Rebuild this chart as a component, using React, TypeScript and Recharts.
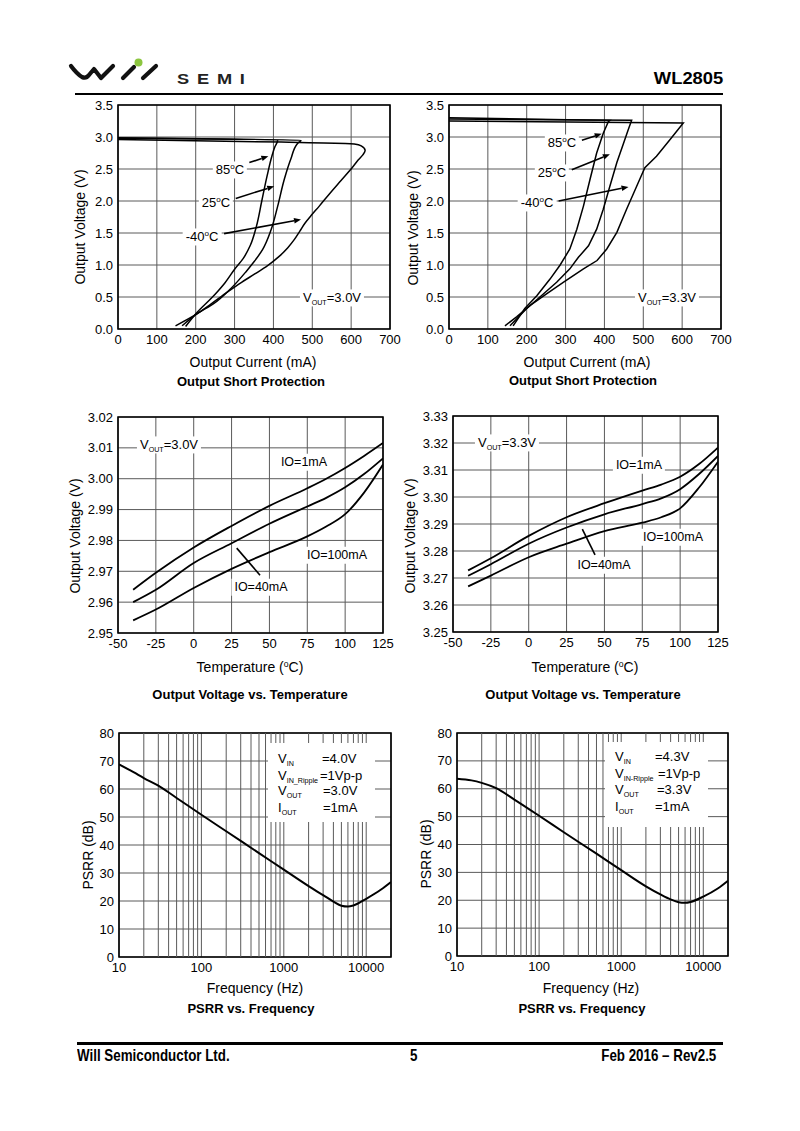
import React from 'react';
import {
  LineChart, Line, XAxis, YAxis, CartesianGrid, ReferenceLine, ReferenceArea,
} from 'recharts';

const FONT = '"Liberation Sans", Arial, sans-serif';

// ---------- Output short protection, VOUT = 3.0V ----------
const s30_85_mA = [0, 411, 404, 396, 384, 370, 356, 340, 322, 302, 275, 240, 205, 174];
const s30_85_V = [2.99, 2.95, 2.85, 2.7, 2.4, 2.0, 1.6, 1.3, 1.1, 0.95, 0.72, 0.48, 0.27, 0.04];
const s30_25_mA = [0, 471, 462, 445, 428, 411, 394, 372, 350, 330, 290, 247, 204, 165];
const s30_25_V = [2.98, 2.95, 2.9, 2.66, 2.34, 1.92, 1.55, 1.24, 1.05, 0.9, 0.63, 0.4, 0.24, 0.05];
const s30_m40_mA = [0, 420, 585, 608, 626, 636, 630, 618, 604, 574, 544, 518, 498, 482, 468, 454, 437, 414, 385, 352, 318, 282, 239, 204, 148];
const s30_m40_V = [2.96, 2.92, 2.9, 2.89, 2.86, 2.79, 2.72, 2.64, 2.53, 2.32, 2.11, 1.92, 1.78, 1.66, 1.53, 1.4, 1.27, 1.13, 0.99, 0.86, 0.73, 0.58, 0.39, 0.24, 0.05];

// ---------- Output short protection, VOUT = 3.3V ----------
const s33_85_mA = [0, 414, 410, 397, 380, 363, 346, 329, 311, 286, 260, 226, 195, 165];
const s33_85_V = [3.3, 3.26, 3.24, 3.06, 2.75, 2.34, 1.92, 1.56, 1.25, 1.0, 0.78, 0.52, 0.32, 0.05];
const s33_25_mA = [0, 470, 461, 449, 432, 414, 397, 380, 359, 333, 311, 277, 234, 200, 157];
const s33_25_V = [3.28, 3.26, 3.11, 2.9, 2.6, 2.23, 1.87, 1.56, 1.3, 1.12, 0.94, 0.73, 0.5, 0.32, 0.05];
const s33_m40_mA = [0, 603, 569, 534, 504, 483, 457, 432, 406, 381, 346, 294, 251, 209, 174, 144];
const s33_m40_V = [3.25, 3.22, 2.96, 2.7, 2.52, 2.23, 1.87, 1.51, 1.25, 1.07, 0.94, 0.73, 0.55, 0.37, 0.19, 0.05];

const currentTicks = [0, 100, 200, 300, 400, 500, 600, 700];
const shortVoltTicks = [0, 0.5, 1.0, 1.5, 2.0, 2.5, 3.0, 3.5];

// ---------- Output voltage vs temperature ----------
const tempC = [-40, -25, 0, 25, 50, 75, 87.5, 100, 112.5, 125];
const t30_1mA = [2.964, 2.9695, 2.9777, 2.9847, 2.9912, 2.9969, 3.0, 3.0035, 3.0074, 3.0116];
const t30_40mA = [2.96, 2.964, 2.9727, 2.9791, 2.9854, 2.991, 2.9938, 2.9972, 3.0015, 3.0066];
const t30_100mA = [2.9541, 2.9576, 2.9646, 2.9708, 2.9762, 2.9813, 2.9845, 2.9885, 2.9955, 3.0046];
const t33_1mA = [3.2728, 3.2773, 3.2856, 3.2925, 3.2977, 3.3024, 3.3046, 3.3075, 3.3122, 3.3183];
const t33_40mA = [3.2708, 3.2751, 3.2827, 3.2887, 3.2936, 3.2974, 3.2995, 3.3029, 3.3085, 3.3152];
const t33_100mA = [3.2669, 3.2709, 3.2777, 3.2827, 3.2874, 3.2905, 3.2925, 3.2958, 3.3035, 3.3131];

const tempTicks = [-50, -25, 0, 25, 50, 75, 100, 125];
const v30Ticks = [2.95, 2.96, 2.97, 2.98, 2.99, 3.0, 3.01, 3.02];
const v33Ticks = [3.25, 3.26, 3.27, 3.28, 3.29, 3.3, 3.31, 3.32, 3.33];

// ---------- PSRR vs frequency ----------
const freqHz = [10, 15, 20, 30, 50, 100, 200, 500, 1000, 2000, 3000, 4000, 5000, 6000, 7000, 10000, 15000, 20000];
const psrr30 = [68.8, 66.0, 63.9, 61.2, 56.8, 50.8, 44.9, 37.1, 31.2, 25.3, 22.1, 19.8, 18.3, 18.0, 18.4, 20.8, 24.0, 26.8];
const psrr33 = [63.6, 63.0, 62.1, 60.2, 56.1, 50.3, 44.4, 36.7, 30.8, 25.0, 22.1, 20.3, 19.3, 19.1, 19.4, 21.3, 24.2, 27.0];

const freqTicks = [10, 100, 1000, 10000];
const freqMinor = [20, 30, 40, 50, 60, 70, 80, 90, 200, 300, 400, 500, 600, 700, 800, 900,
  2000, 3000, 4000, 5000, 6000, 7000, 8000, 9000];
const psrrTicks = [0, 10, 20, 30, 40, 50, 60, 70, 80];

const zipIV = (mA: number[], v: number[]) => mA.map((i, k) => ({ i, v: v[k] }));
const tempRows = (a: number[], b: number[], c: number[]) =>
  tempC.map((t, k) => ({ t, a: a[k], b: b[k], c: c[k] }));
const psrrRows = (d: number[]) => freqHz.map((f, k) => ({ f, db: d[k] }));

type Rect = { left: number; top: number; w: number; h: number };
const ML = 50, MT = 10, MR = 20, MB = 30;

const tickStyle = { fontSize: 13, fill: '#000', fontFamily: FONT };
const GRID = '#5a5a5a';

const Arrow = (p: any) => {
  const { x1, y1, x2, y2 } = p;
  const a = Math.atan2(y2 - y1, x2 - x1);
  const L = 7, W = 2.8;
  const bx = x2 - L * Math.cos(a), by = y2 - L * Math.sin(a);
  const pts = `${x2},${y2} ${bx - W * Math.sin(a)},${by + W * Math.cos(a)} ${bx + W * Math.sin(a)},${by - W * Math.cos(a)}`;
  return (
    <g>
      <line x1={x1} y1={y1} x2={bx} y2={by} stroke="#000" strokeWidth={1.6} />
      <polygon points={pts} fill="#000" />
    </g>
  );
};

const Plain = (p: any) => (
  <line x1={p.x1} y1={p.y1} x2={p.x2} y2={p.y2} stroke="#000" strokeWidth={1.6} />
);

function chartBox(r: Rect): React.CSSProperties {
  return { position: 'absolute', left: r.left - ML, top: r.top - MT };
}

const Deg = () => (
  <span style={{ fontSize: '0.62em', position: 'relative', top: '-0.6em' }}>o</span>
);
const Sub = ({ t }: { t: string }) => (
  <span style={{ fontSize: '0.55em', position: 'relative', top: '0.4em' }}>{t}</span>
);

function Tag({ x, y, size = 13, bg = true, children }: any) {
  return (
    <div style={{
      position: 'absolute', left: x, top: y, transform: 'translate(-50%, -50%)',
      fontFamily: FONT, fontSize: size, lineHeight: 1, whiteSpace: 'nowrap',
      background: bg ? '#fff' : 'transparent', padding: '2px 3px', color: '#000',
    }}>{children}</div>
  );
}

function YTitle({ x, y, children }: any) {
  return (
    <div style={{
      position: 'absolute', left: x, top: y, transform: 'translate(-50%, -50%) rotate(-90deg)',
      fontFamily: FONT, fontSize: 14, lineHeight: 1, whiteSpace: 'nowrap', color: '#000',
    }}>{children}</div>
  );
}

function Caption({ x, y, children }: any) {
  return (
    <div style={{
      position: 'absolute', left: x, top: y, transform: 'translate(-50%, -50%)',
      fontFamily: FONT, fontSize: 13, fontWeight: 700, lineHeight: 1, whiteSpace: 'nowrap', color: '#000',
    }}>{children}</div>
  );
}

function ShortChart({ r, c85, c25, cm40, arrows, curve }: any) {
  return (
    <div style={chartBox(r)}>
      <LineChart width={r.w + ML + MR} height={r.h + MT + MB} margin={{ top: MT, right: MR, bottom: 0, left: 0 }}>
        <CartesianGrid stroke={GRID} strokeWidth={1} />
        <XAxis type="number" dataKey="i" domain={[0, 700]} ticks={currentTicks} height={MB}
          tick={tickStyle} tickLine={false} axisLine={false} tickSize={4} tickMargin={2} allowDataOverflow />
        <YAxis type="number" domain={[0, 3.5]} ticks={shortVoltTicks} width={ML}
          tick={tickStyle} tickLine={false} axisLine={false} tickSize={3} tickMargin={2}
          tickFormatter={(v: number) => v.toFixed(1)} allowDataOverflow />
        <Line data={c85} dataKey="v" type={curve} stroke="#000" strokeWidth={1.5} dot={false} isAnimationActive={false} />
        <Line data={c25} dataKey="v" type={curve} stroke="#000" strokeWidth={1.5} dot={false} isAnimationActive={false} />
        <Line data={cm40} dataKey="v" type={curve} stroke="#000" strokeWidth={1.5} dot={false} isAnimationActive={false} />
        {arrows.map((s: any, k: number) => (
          <ReferenceLine key={k} segment={s} shape={Arrow} ifOverflow="visible" />
        ))}
        <ReferenceArea x1={0} x2={700} y1={0} y2={3.5} fill="none" stroke="#000" strokeWidth={1.6} ifOverflow="visible" />
      </LineChart>
    </div>
  );
}

function TempChart({ r, rows, yTicks, pointer }: any) {
  const lo = yTicks[0], hi = yTicks[yTicks.length - 1];
  return (
    <div style={chartBox(r)}>
      <LineChart width={r.w + ML + MR} height={r.h + MT + MB} data={rows} margin={{ top: MT, right: MR, bottom: 0, left: 0 }}>
        <CartesianGrid stroke={GRID} strokeWidth={1} />
        <XAxis type="number" dataKey="t" domain={[-50, 125]} ticks={tempTicks} height={MB}
          tick={tickStyle} tickLine={false} axisLine={false} tickSize={4} tickMargin={2} allowDataOverflow />
        <YAxis type="number" domain={[lo, hi]} ticks={yTicks} width={ML}
          tick={tickStyle} tickLine={false} axisLine={false} tickSize={3} tickMargin={2}
          tickFormatter={(v: number) => v.toFixed(2)} allowDataOverflow />
        <Line dataKey="a" type="monotone" stroke="#000" strokeWidth={1.8} dot={false} isAnimationActive={false} />
        <Line dataKey="b" type="monotone" stroke="#000" strokeWidth={1.8} dot={false} isAnimationActive={false} />
        <Line dataKey="c" type="monotone" stroke="#000" strokeWidth={1.8} dot={false} isAnimationActive={false} />
        <ReferenceLine segment={pointer} shape={Plain} ifOverflow="visible" />
        <ReferenceArea x1={-50} x2={125} y1={lo} y2={hi} fill="none" stroke="#000" strokeWidth={1.6} ifOverflow="visible" />
      </LineChart>
    </div>
  );
}

function PsrrChart({ r, rows }: any) {
  return (
    <div style={chartBox(r)}>
      <LineChart width={r.w + ML + MR} height={r.h + MT + MB} data={rows} margin={{ top: MT, right: MR, bottom: 0, left: 0 }}>
        <CartesianGrid stroke={GRID} strokeWidth={1} />
        <XAxis type="number" dataKey="f" scale="log" domain={[10, 20000]} ticks={freqTicks} height={MB}
          tick={tickStyle} tickLine={false} axisLine={false} tickSize={4} tickMargin={2} allowDataOverflow />
        <YAxis type="number" domain={[0, 80]} ticks={psrrTicks} width={ML}
          tick={tickStyle} tickLine={false} axisLine={false} tickSize={3} tickMargin={2} allowDataOverflow />
        {freqMinor.map(f => (
          <ReferenceLine key={f} x={f} stroke={GRID} strokeWidth={1} />
        ))}
        <Line dataKey="db" type="monotone" stroke="#000" strokeWidth={2} dot={false} isAnimationActive={false} />
        <ReferenceArea x1={10} x2={20000} y1={0} y2={80} fill="none" stroke="#000" strokeWidth={1.6} ifOverflow="visible" />
      </LineChart>
    </div>
  );
}

function PsrrNote({ box, colL, colR, rows, vals, names }: any) {
  return (
    <>
      <div style={{ position: 'absolute', left: box[0], top: box[1], width: box[2], height: box[3], background: '#fff' }} />
      {rows.map((y: number, k: number) => (
        <React.Fragment key={k}>
          <div style={{ position: 'absolute', left: colL, top: y - 8, fontFamily: FONT, fontSize: 13, lineHeight: 1, whiteSpace: 'nowrap' }}>
            {names[k][0]}<Sub t={names[k][1]} />
          </div>
          <div style={{ position: 'absolute', left: colR[k], top: y - 8, fontFamily: FONT, fontSize: 13, lineHeight: 1, whiteSpace: 'nowrap' }}>
            {vals[k]}
          </div>
        </React.Fragment>
      ))}
    </>
  );
}

const stretch = (origin: string, sx: number): React.CSSProperties => ({
  fontFamily: FONT, fontWeight: 700, transform: `scaleX(${sx})`, transformOrigin: origin, whiteSpace: 'nowrap', lineHeight: 1, color: '#000',
});

export default function App() {
  const c1: Rect = { left: 118, top: 105, w: 272, h: 224 };
  const c2: Rect = { left: 449, top: 105, w: 272, h: 224 };
  const c3: Rect = { left: 118, top: 417, w: 265, h: 216 };
  const c4: Rect = { left: 453, top: 416, w: 265, h: 216 };
  const c5: Rect = { left: 119, top: 733, w: 272, h: 224 };
  const c6: Rect = { left: 457, top: 733, w: 271, h: 223 };

  return (
    <div style={{ position: 'absolute', left: 0, top: 0, width: 800, height: 1131, background: '#fff', overflow: 'hidden' }}>
      {/* header */}
      <svg style={{ position: 'absolute', left: 0, top: 0 }} width={200} height={100}>
        <path d="M71 66 Q77 74 82 77 Q86 79 89 75 L94 69 L101 78 L113 66" fill="none" stroke="#111" strokeWidth={4.2} strokeLinecap="round" strokeLinejoin="round" />
        <path d="M123 78 L134 67 M143 78 L156 66" fill="none" stroke="#111" strokeWidth={4.2} strokeLinecap="round" />
        <circle cx={138.5} cy={62.5} r={4} fill="#8cc63f" />
      </svg>
      <div style={{ position: 'absolute', left: 177, top: 72, fontSize: 14, letterSpacing: 6, ...stretch('left', 1.3), color: '#222' }}>SEMI</div>
      <div style={{ position: 'absolute', right: 77, top: 70, fontSize: 17, ...stretch('right', 1.08) }}>WL2805</div>
      <div style={{ position: 'absolute', left: 75, top: 92.5, width: 648, height: 2.5, background: '#000' }} />

      {/* row 1 */}
      <ShortChart r={c1} curve="monotoneY" c85={zipIV(s30_85_mA, s30_85_V)} c25={zipIV(s30_25_mA, s30_25_V)} cm40={zipIV(s30_m40_mA, s30_m40_V)}
        arrows={[
          [{ x: 338, y: 2.6 }, { x: 387, y: 2.7 }],
          [{ x: 303, y: 2.04 }, { x: 402, y: 2.23 }],
          [{ x: 273, y: 1.49 }, { x: 471, y: 1.71 }],
        ]} />
      <Tag x={230} y={170}>85<Deg />C</Tag>
      <Tag x={216} y={203}>25<Deg />C</Tag>
      <Tag x={202} y={237}>-40<Deg />C</Tag>
      <Tag x={332} y={298}>V<Sub t="OUT" />=3.0V</Tag>
      <YTitle x={80} y={227}>Output Voltage (V)</YTitle>
      <Tag x={253} y={362} size={14} bg={false}>Output Current (mA)</Tag>
      <Caption x={251} y={381}>Output Short Protection</Caption>

      <ShortChart r={c2} curve="linear" c85={zipIV(s33_85_mA, s33_85_V)} c25={zipIV(s33_25_mA, s33_25_V)} cm40={zipIV(s33_m40_mA, s33_m40_V)}
        arrows={[
          [{ x: 342, y: 2.95 }, { x: 393, y: 3.05 }],
          [{ x: 316, y: 2.49 }, { x: 414, y: 2.73 }],
          [{ x: 282, y: 2.0 }, { x: 462, y: 2.22 }],
        ]} />
      <Tag x={562} y={143}>85<Deg />C</Tag>
      <Tag x={552} y={173}>25<Deg />C</Tag>
      <Tag x={537} y={203}>-40<Deg />C</Tag>
      <Tag x={667} y={298}>V<Sub t="OUT" />=3.3V</Tag>
      <YTitle x={413} y={228}>Output Voltage (V)</YTitle>
      <Tag x={587} y={362} size={14} bg={false}>Output Current (mA)</Tag>
      <Caption x={583} y={380}>Output Short Protection</Caption>

      {/* row 2 */}
      <TempChart r={c3} rows={tempRows(t30_1mA, t30_40mA, t30_100mA)} yTicks={v30Ticks}
        pointer={[{ x: 43.8, y: 2.9687 }, { x: 28.4, y: 2.9775 }]} />
      <Tag x={169} y={445}>V<Sub t="OUT" />=3.0V</Tag>
      <Tag x={304} y={462} size={12.5}>IO=1mA</Tag>
      <Tag x={337} y={555} size={12.5}>IO=100mA</Tag>
      <Tag x={261} y={587} size={12.5}>IO=40mA</Tag>
      <YTitle x={75} y={536}>Output Voltage (V)</YTitle>
      <Tag x={250} y={667} size={14} bg={false}>Temperature (<Deg />C)</Tag>
      <Caption x={250} y={694}>Output Voltage vs. Temperature</Caption>

      <TempChart r={c4} rows={tempRows(t33_1mA, t33_40mA, t33_100mA)} yTicks={v33Ticks}
        pointer={[{ x: 43.8, y: 3.2786 }, { x: 35.4, y: 3.2881 }]} />
      <Tag x={507} y={443}>V<Sub t="OUT" />=3.3V</Tag>
      <Tag x={639} y={465} size={12.5}>IO=1mA</Tag>
      <Tag x={673} y={537} size={12.5}>IO=100mA</Tag>
      <Tag x={604} y={565} size={12.5}>IO=40mA</Tag>
      <YTitle x={410} y={536}>Output Voltage (V)</YTitle>
      <Tag x={585} y={667} size={14} bg={false}>Temperature (<Deg />C)</Tag>
      <Caption x={583} y={694}>Output Voltage vs. Temperature</Caption>

      {/* row 3 */}
      <PsrrChart r={c5} rows={psrrRows(psrr30)} />
      <PsrrNote box={[268, 743, 107, 79]} colL={278} colR={[322, 320, 323, 323]}
        rows={[760, 777, 792, 809]}
        names={[['V', 'IN'], ['V', 'IN_Ripple'], ['V', 'OUT'], ['I', 'OUT']]}
        vals={['=4.0V', '=1Vp-p', '=3.0V', '=1mA']} />
      <YTitle x={88} y={855}>PSRR (dB)</YTitle>
      <Tag x={255} y={988} size={14} bg={false}>Frequency (Hz)</Tag>
      <Caption x={251} y={1008}>PSRR vs. Frequency</Caption>

      <PsrrChart r={c6} rows={psrrRows(psrr33)} />
      <PsrrNote box={[605, 742, 103, 85]} colL={615} colR={[655, 658, 657, 655]}
        rows={[758, 775, 791, 808]}
        names={[['V', 'IN'], ['V', 'IN-Ripple'], ['V', 'OUT'], ['I', 'OUT']]}
        vals={['=4.3V', '=1Vp-p', '=3.3V', '=1mA']} />
      <YTitle x={426} y={854}>PSRR (dB)</YTitle>
      <Tag x={591} y={988} size={14} bg={false}>Frequency (Hz)</Tag>
      <Caption x={582} y={1008}>PSRR vs. Frequency</Caption>

      {/* footer */}
      <div style={{ position: 'absolute', left: 77, top: 1042, width: 646, height: 2.5, background: '#000' }} />
      <div style={{ position: 'absolute', left: 77, top: 1047, fontSize: 16.3, ...stretch('left', 0.82) }}>Will Semiconductor Ltd.</div>
      <div style={{ position: 'absolute', left: 410, top: 1047, fontSize: 16.3, ...stretch('left', 0.82) }}>5</div>
      <div style={{ position: 'absolute', right: 84, top: 1047, fontSize: 16.3, ...stretch('right', 0.82) }}>Feb 2016 – Rev2.5</div>
    </div>
  );
}
